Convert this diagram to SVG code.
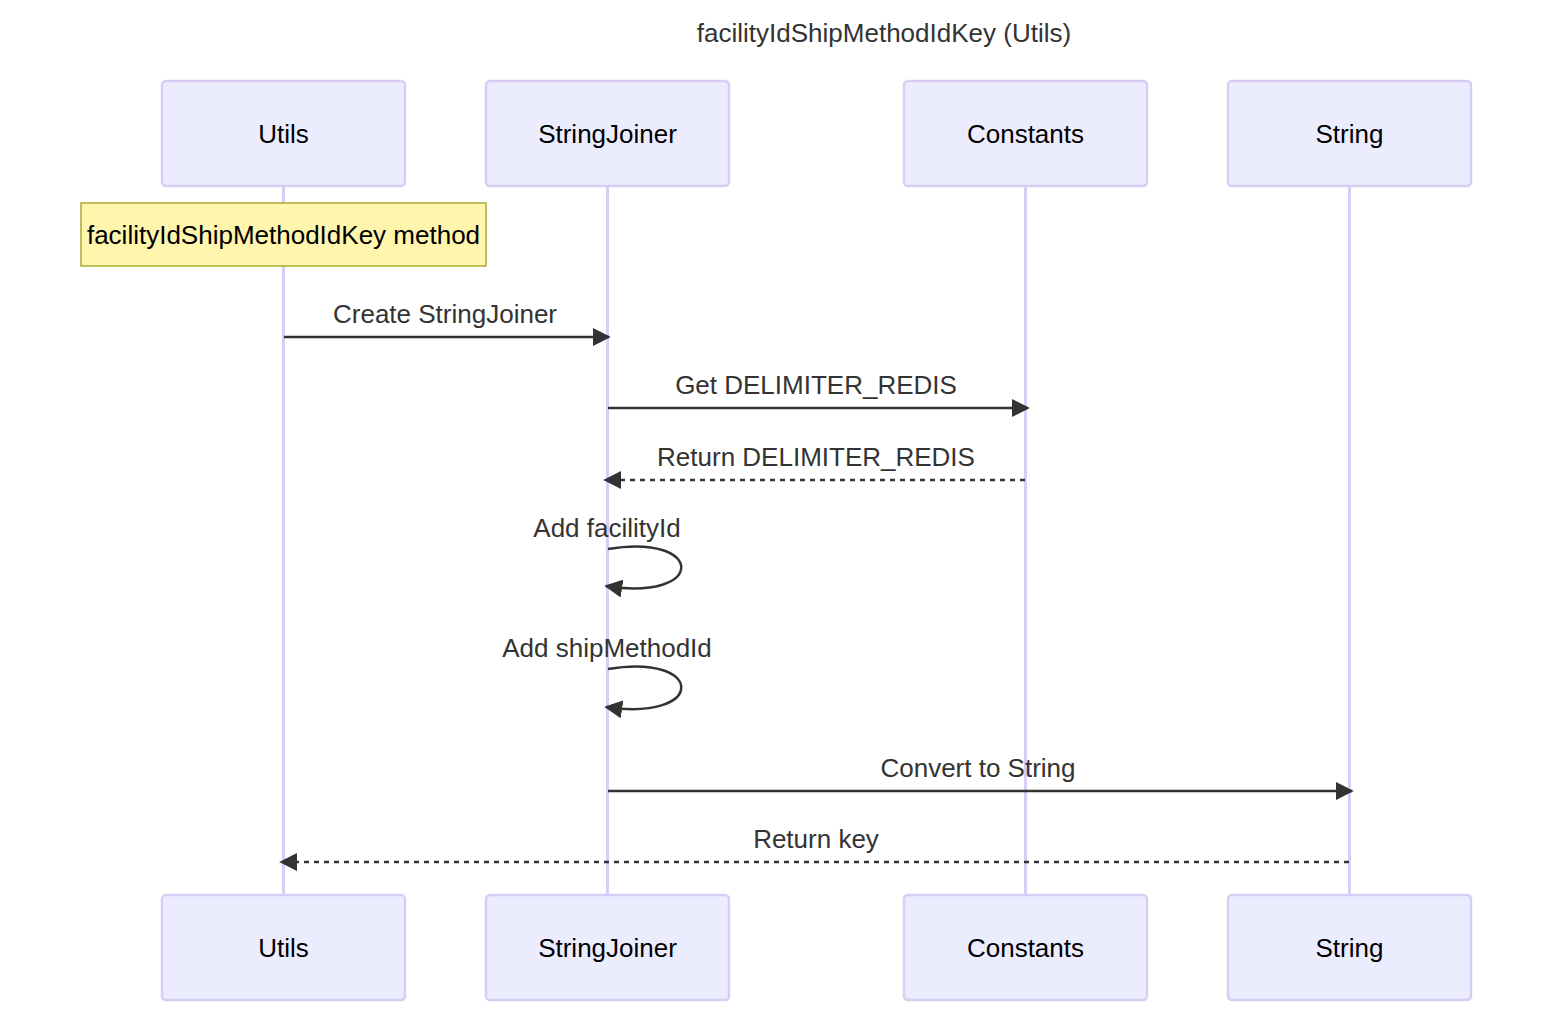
<svg xmlns="http://www.w3.org/2000/svg" width="1568" height="1028" viewBox="0 0 1568 1028">
<style>
text{font-family:"Liberation Sans",Arial,sans-serif;font-size:26px}
.actor rect{fill:#ececff;stroke:#d8cdf4;stroke-width:2.5}
.actor text{fill:#000;text-anchor:middle;dominant-baseline:central}
.life{stroke:#d8cdf4;stroke-width:3}
.msg{stroke:#333;stroke-width:2.5;fill:none}
.dash{stroke-dasharray:5,5}
.lbl{fill:#333;text-anchor:middle;dominant-baseline:central}
</style>
<defs>
<marker id="ah" viewBox="0 0 10 10" refX="9" refY="5" markerWidth="18" markerHeight="18" markerUnits="userSpaceOnUse" orient="auto">
<path d="M0,0 L10,5 L0,10 z" fill="#333"/>
</marker>
</defs>
<rect width="1568" height="1028" fill="#fff"/>
<text x="884" y="33" class="lbl">facilityIdShipMethodIdKey (Utils)</text>
<g id="lifelines">
<line class="life" x1="283.5" y1="186" x2="283.5" y2="895"/>
<line class="life" x1="607.5" y1="186" x2="607.5" y2="895"/>
<line class="life" x1="1025.5" y1="186" x2="1025.5" y2="895"/>
<line class="life" x1="1349.5" y1="186" x2="1349.5" y2="895"/>
</g>
<g id="utils" class="actor">
<rect x="162" y="81" width="243" height="105" rx="4"/><text x="283.5" y="134">Utils</text>
<rect x="162" y="895" width="243" height="105" rx="4"/><text x="283.5" y="948">Utils</text>
</g>
<g id="stringjoiner" class="actor">
<rect x="486" y="81" width="243" height="105" rx="4"/><text x="607.5" y="134">StringJoiner</text>
<rect x="486" y="895" width="243" height="105" rx="4"/><text x="607.5" y="948">StringJoiner</text>
</g>
<g id="constants" class="actor">
<rect x="904" y="81" width="243" height="105" rx="4"/><text x="1025.5" y="134">Constants</text>
<rect x="904" y="895" width="243" height="105" rx="4"/><text x="1025.5" y="948">Constants</text>
</g>
<g id="string" class="actor">
<rect x="1228" y="81" width="243" height="105" rx="4"/><text x="1349.5" y="134">String</text>
<rect x="1228" y="895" width="243" height="105" rx="4"/><text x="1349.5" y="948">String</text>
</g>
<g id="note">
<rect x="81" y="203" width="405" height="63" fill="#fff5ad" stroke="#aaaa33" stroke-width="1.5"/>
<text x="283.5" y="235" text-anchor="middle" dominant-baseline="central" fill="#000">facilityIdShipMethodIdKey method</text>
</g>
<g id="connectors">
<line class="msg" x1="284" y1="337" x2="609" y2="337" marker-end="url(#ah)"/>
<text class="lbl" x="445" y="314">Create StringJoiner</text>
<line class="msg" x1="608" y1="408" x2="1028" y2="408" marker-end="url(#ah)"/>
<text class="lbl" x="816" y="385">Get DELIMITER_REDIS</text>
<line class="msg dash" x1="1025" y1="480" x2="605" y2="480" marker-end="url(#ah)"/>
<text class="lbl" x="816" y="457">Return DELIMITER_REDIS</text>
<path class="msg" d="M608,549 C706,533 706,602 606,586" marker-end="url(#ah)"/>
<text class="lbl" x="607" y="528">Add facilityId</text>
<path class="msg" d="M608,669 C706,653 706,722 606,707" marker-end="url(#ah)"/>
<text class="lbl" x="607" y="648">Add shipMethodId</text>
<line class="msg" x1="608" y1="791" x2="1352" y2="791" marker-end="url(#ah)"/>
<text class="lbl" x="978" y="768">Convert to String</text>
<line class="msg dash" x1="1349" y1="862" x2="281" y2="862" marker-end="url(#ah)"/>
<text class="lbl" x="816" y="839">Return key</text>
</g>
</svg>
